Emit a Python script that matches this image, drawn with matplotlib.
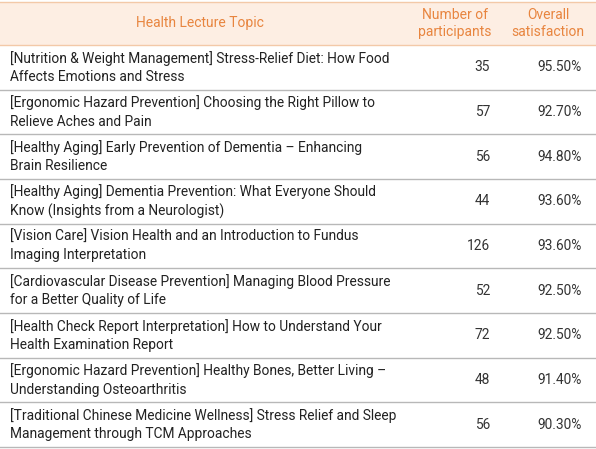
import matplotlib
matplotlib.use("Agg")
import matplotlib.pyplot as plt

topics = [
    "[Nutrition & Weight Management] Stress-Relief Diet: How Food\nAffects Emotions and Stress",
    "[Ergonomic Hazard Prevention] Choosing the Right Pillow to\nRelieve Aches and Pain",
    "[Healthy Aging] Early Prevention of Dementia – Enhancing\nBrain Resilience",
    "[Healthy Aging] Dementia Prevention: What Everyone Should\nKnow (Insights from a Neurologist)",
    "[Vision Care] Vision Health and an Introduction to Fundus\nImaging Interpretation",
    "[Cardiovascular Disease Prevention] Managing Blood Pressure\nfor a Better Quality of Life",
    "[Health Check Report Interpretation] How to Understand Your\nHealth Examination Report",
    "[Ergonomic Hazard Prevention] Healthy Bones, Better Living –\nUnderstanding Osteoarthritis",
    "[Traditional Chinese Medicine Wellness] Stress Relief and Sleep\nManagement through TCM Approaches",
]
participants = [35, 57, 56, 44, 126, 52, 72, 48, 56]
satisfaction = ["95.50%", "92.70%", "94.80%", "93.60%", "93.60%", "92.50%", "92.50%", "91.40%", "90.30%"]
headers = ["Health Lecture Topic", "Number of\nparticipants", "Overall\nsatisfaction"]

plt.rcParams['font.family'] = ['Roboto', 'DejaVu Sans']
fig = plt.figure(figsize=(5.96, 4.49), dpi=100)
ax = fig.add_axes([0, 0, 1, 1])
ax.set_xlim(0, 596); ax.set_ylim(449, 0); ax.axis('off')

orange = '#e8853f'
hdr_top, hdr_bot = 2, 45
ax.fill_between([0, 596], hdr_top, hdr_bot, color='#fdeee3', lw=0)
ax.plot([0, 596], [hdr_top, hdr_top], color='#f3c9a8', lw=1)
ax.plot([0, 596], [hdr_bot, hdr_bot], color='#f3c9a8', lw=1)
ax.text(200, 23.5, headers[0], color=orange, fontsize=10, ha='center', va='center')
ax.text(455, 23.5, headers[1], color=orange, fontsize=10, ha='center', va='center', linespacing=1.25)
ax.text(548, 23.5, headers[2], color=orange, fontsize=10, ha='center', va='center', linespacing=1.25)

rh = (447 - hdr_bot) / len(topics)
for i, (t, p, s) in enumerate(zip(topics, participants, satisfaction)):
    y0 = hdr_bot + i * rh
    yc = y0 + rh / 2
    ax.text(10, yc, t, fontsize=9.9, color='#222222', ha='left', va='center', linespacing=1.4)
    ax.text(490, yc, str(p), fontsize=9.9, color='#333333', ha='right', va='center')
    ax.text(582, yc, s, fontsize=9.9, color='#333333', ha='right', va='center')
    ax.plot([0, 596], [y0 + rh, y0 + rh], color='#b8b8b8', lw=1)

fig.savefig('out.png', dpi=100, facecolor='white')
